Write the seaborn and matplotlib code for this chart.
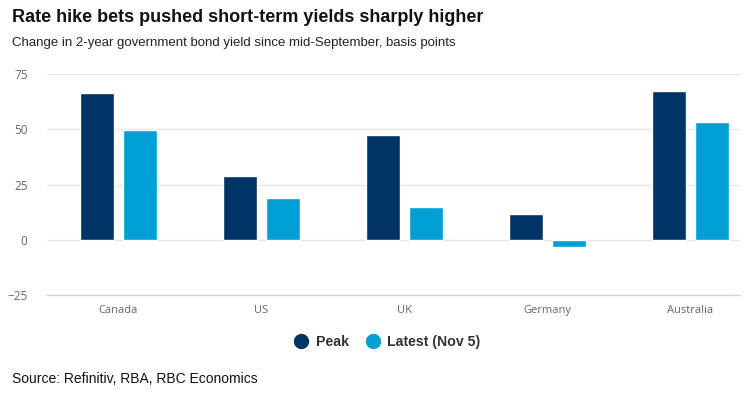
import pandas as pd
import matplotlib.pyplot as plt
from matplotlib.lines import Line2D
import seaborn as sns

countries = ["Canada", "US", "UK", "Germany", "Australia"]
peak = [66.4, 28.7, 47.5, 11.7, 67.3]
latest = [49.8, 18.8, 14.8, -3.4, 53.4]
series_names = ["Peak", "Latest (Nov 5)"]
colors = ["#003366", "#009fd4"]

df = pd.DataFrame({
    "country": countries * 2,
    "value": peak + latest,
    "series": [series_names[0]] * len(countries) + [series_names[1]] * len(countries),
})

sns.set_style("white")
plt.rcParams["font.family"] = ["Liberation Sans", "DejaVu Sans"]

fig = plt.figure(figsize=(7.44, 3.94), dpi=100)
ax = fig.add_axes([47 / 744, 1 - 295 / 394, 693 / 744, 221 / 394])

sns.barplot(data=df, x="country", y="value", hue="series", palette=colors,
            width=0.6, gap=0.2, saturation=1, legend=False, ax=ax)

ax.set_xlim(-0.5, 4.346)
ax.set_ylim(-25, 75)
ax.set_yticks([-25, 0, 25, 50, 75])
ax.grid(axis="y", color="#e6e6e6", linewidth=1)
ax.set_axisbelow(True)
for s in ["top", "right", "left"]:
    ax.spines[s].set_visible(False)
ax.spines["bottom"].set_color("#ccd6eb")
ax.spines["bottom"].set_linewidth(1)
ax.tick_params(axis="y", length=0, pad=14, labelsize=8.5, labelcolor="#666666")
ax.tick_params(axis="x", length=0, pad=7, labelsize=8, labelcolor="#666666")
for lbl in ax.get_xticklabels() + ax.get_yticklabels():
    lbl.set_family("Open Sans")
ax.set_xlabel("")
ax.set_ylabel("")

fig.text(12 / 744, 1 - 18 / 394, "Rate hike bets pushed short-term yields sharply higher",
         fontsize=13, fontweight="bold", color="#111111", va="center")
fig.text(12 / 744, 1 - 43 / 394, "Change in 2-year government bond yield since mid-September, basis points",
         fontsize=9.5, color="#222222", va="center")
fig.text(12 / 744, 1 - 379 / 394, "Source: Refinitiv, RBA, RBC Economics",
         fontsize=10, color="#111111", va="center")

handles = [Line2D([], [], marker="o", linestyle="", markersize=10,
                  markerfacecolor=c, markeredgecolor=c) for c in colors]
leg = fig.legend(handles, series_names, loc="center", bbox_to_anchor=(0.5175, 1 - 342 / 394),
                 ncol=2, frameon=False, handletextpad=0.2, columnspacing=0.9,
                 handlelength=1.6, prop={"weight": "bold", "size": 10.2})
for t in leg.get_texts():
    t.set_color("#333333")

fig.savefig("out.png", dpi=100)
